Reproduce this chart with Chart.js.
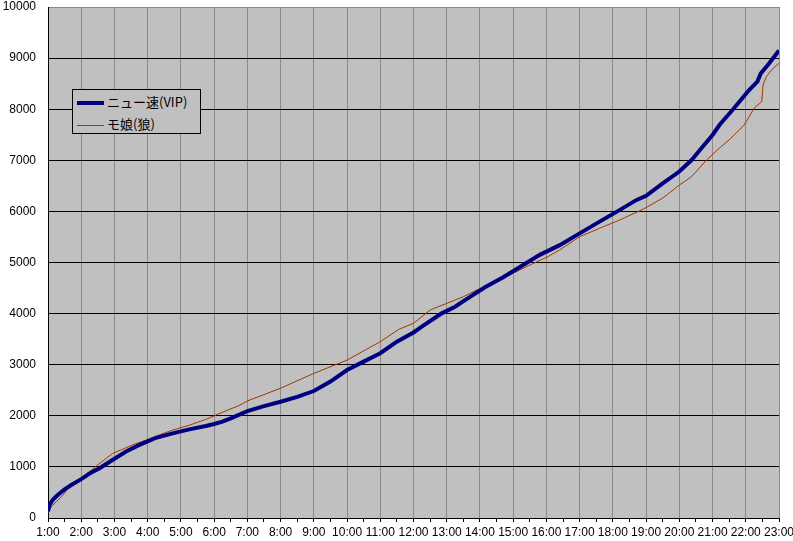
<!DOCTYPE html>
<html>
<head>
<meta charset="utf-8">
<script src="https://cdn.jsdelivr.net/npm/chart.js@4/dist/chart.umd.min.js"></script>
<style>
  body { margin: 0; background: #fff; }
  #wrap { position: relative; width: 793px; height: 541px; }
  #legend {
    position: absolute; left: 72px; top: 89px; width: 127px; height: 43px;
    background: #c0c0c0; border: 1px solid #000;
    font-family: "Noto Sans CJK JP", sans-serif; font-size: 13px; color: #000;
  }
  .item { position: absolute; left: 4px; height: 18px; line-height: 18px; white-space: nowrap; }
  .swatch { display: inline-block; width: 27px; vertical-align: middle; margin-right: 3px; }
</style>
</head>
<body>
<div id="wrap">
  <canvas id="chart" width="793" height="541"></canvas>
  <div id="legend"></div>
</div>
<script>
// hour tick labels
const hourLabels = ['1:00','2:00','3:00','4:00','5:00','6:00','7:00','8:00','9:00','10:00','11:00','12:00',
  '13:00','14:00','15:00','16:00','17:00','18:00','19:00','20:00','21:00','22:00','23:00'];

// ニュー速(VIP) - time in hours, cumulative count
const vipTime = [1.00, 1.05, 1.15, 1.30, 1.50, 1.70, 2.00, 2.25, 2.55, 3.00, 3.35, 3.75, 4.00, 4.25, 4.75,
  5.25, 5.75, 6.00, 6.25, 6.50, 7.00, 7.50, 8.00, 8.50, 9.00, 9.50, 10.00, 10.50, 11.00, 11.50, 12.00,
  12.25, 12.85, 13.25, 13.55, 14.15, 14.70, 15.30, 15.80, 16.40, 17.00, 17.60, 18.20, 18.70, 19.00,
  19.50, 20.00, 20.37, 20.62, 21.00, 21.22, 21.60, 21.85, 22.10, 22.35, 22.45, 22.70, 23.00];
const vipCount = [130, 260, 360, 455, 560, 645, 760, 870, 975, 1160, 1300, 1430, 1500, 1570, 1655,
  1735, 1800, 1840, 1885, 1950, 2090, 2190, 2275, 2370, 2485, 2670, 2895, 3060, 3225, 3450, 3630,
  3745, 4005, 4135, 4265, 4515, 4710, 4950, 5150, 5340, 5570, 5800, 6025, 6220, 6305,
  6550, 6780, 7005, 7200, 7495, 7700, 7985, 8180, 8375, 8540, 8700, 8895, 9150];

// モ娘(狼)
const momoTime = [1.00, 1.10, 1.25, 1.45, 1.65, 1.95, 2.25, 2.45, 2.95, 3.55, 3.95, 4.35, 4.75, 5.25,
  5.75, 6.00, 6.25, 6.75, 7.00, 8.00, 9.00, 10.00, 11.00, 11.55, 12.00, 12.50, 13.00, 13.50, 13.90,
  14.30, 14.70, 15.00, 15.50, 16.00, 16.40, 17.00, 17.60, 18.20, 18.80, 19.00, 19.50, 20.00, 20.37,
  20.82, 21.20, 21.50, 21.80, 21.95, 22.10, 22.25, 22.42, 22.48, 22.52, 22.62, 22.77, 23.00];
const momoCount = [100, 220, 320, 450, 610, 755, 905, 1015, 1265, 1430, 1525, 1625, 1720, 1815,
  1930, 2000, 2070, 2200, 2290, 2540, 2830, 3090, 3450, 3690, 3810, 4070, 4200, 4330, 4460,
  4560, 4690, 4790, 4950, 5100, 5245, 5505, 5670, 5830, 6010, 6075, 6260, 6515, 6680,
  7005, 7235, 7400, 7590, 7690, 7850, 8020, 8115, 8150, 8475, 8635, 8765, 8900];

const seriesNames = ['ニュー速(VIP)', 'モ娘(狼)'];
const seriesColors = ['#000080', '#a33600'];
const seriesWidths = [4, 1];

const PLOT_BG = '#c0c0c0';

function toPoints(xs, ys) {
  return xs.map((x, i) => ({ x: x, y: ys[i] }));
}

// grey plot area like Excel
const plotBg = {
  id: 'plotBg',
  beforeDraw(chart) {
    const a = chart.chartArea;
    const c = chart.ctx;
    c.save();
    c.fillStyle = PLOT_BG;
    c.fillRect(a.left, a.top, a.right - a.left, a.bottom - a.top);
    c.restore();
  }
};

const font = { family: '"Liberation Sans", Arial, sans-serif', size: 12 };

new Chart(document.getElementById('chart'), {
  type: 'line',
  data: {
    datasets: [
      { label: seriesNames[0], data: toPoints(vipTime, vipCount), borderColor: seriesColors[0],
        borderWidth: seriesWidths[0], pointRadius: 0, tension: 0 },
      { label: seriesNames[1], data: toPoints(momoTime, momoCount), borderColor: seriesColors[1],
        borderWidth: seriesWidths[1], pointRadius: 0, tension: 0 }
    ]
  },
  options: {
    responsive: false,
    animation: false,
    devicePixelRatio: 1,
    layout: { padding: { left: 0, right: 14, top: 7, bottom: 0 } },
    plugins: { legend: { display: false }, tooltip: { enabled: false } },
    scales: {
      x: {
        type: 'linear', min: 1, max: 23,
        ticks: {
          stepSize: 0.5, maxTicksLimit: 100, autoSkip: false, maxRotation: 0,
          color: '#000', font: font, padding: 3,
          callback: v => Number.isInteger(v) ? hourLabels[v - 1] : ''
        },
        grid: {
          color: ctx => (Number.isInteger(ctx.tick.value) && ctx.tick.value > 1) ? '#8a8a8a' : 'rgba(0,0,0,0)',
          tickColor: '#000', tickLength: 4, lineWidth: 1
        },
        border: { color: '#000', width: 1 },
        afterFit(scale) { scale.height = 23; scale.paddingLeft = 0; scale.paddingRight = 0; }
      },
      y: {
        min: 0, max: 10000,
        ticks: { stepSize: 1000, color: '#000', font: font, padding: 12, callback: v => String(v) },
        grid: {
          color: ctx => ctx.tick.value === 10000 ? '#8a8a8a' : '#000',
          drawTicks: false, lineWidth: 1
        },
        border: { color: '#000', width: 1 },
        afterFit(scale) { scale.width = 48; scale.paddingTop = 0; scale.paddingBottom = 0; }
      }
    }
  },
  plugins: [plotBg]
});

// legend box inside the plot
const legend = document.getElementById('legend');
legend.innerHTML = seriesNames.map((name, i) =>
  `<div class="item" style="top:${3 + i * 22}px"><span class="swatch" style="border-top:${seriesWidths[i]}px solid ${seriesColors[i]}"></span>${name}</div>`
).join('');
</script>
</body>
</html>
